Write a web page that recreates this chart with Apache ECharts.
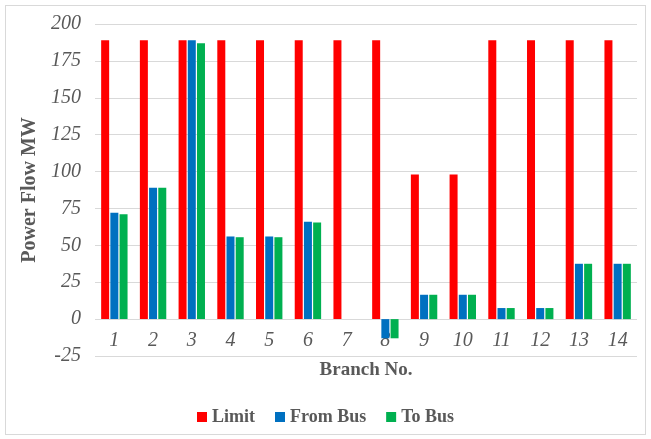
<!DOCTYPE html>
<html><head><meta charset="utf-8">
<script src="https://cdn.jsdelivr.net/npm/echarts@6/dist/echarts.min.js"></script>
<style>html,body{margin:0;padding:0;background:#fff}#c{width:651px;height:439px}
#frame{position:absolute;left:5px;top:5px;width:639px;height:428px;border:1px solid #d9d9d9;pointer-events:none}</style>
</head><body><div id="c"></div><div id="frame"></div>
<script>
const categories = ['1','2','3','4','5','6','7','8','9','10','11','12','13','14'];
const limitVals = [189,189,189,189,189,189,189,189,98,98,189,189,189,189];
const fromBus = [72,89,189,56,56,66,0,-13,16.5,16.5,7.5,7.5,37.5,37.5];
const toBus = [71,89,187,55.5,55.5,65.5,0,-13,16.5,16.5,7.5,7.5,37.5,37.5];
const yTicks = {min:-25, max:200, interval:25};

const chart = echarts.init(document.getElementById('c'));
const serif = 'Liberation Serif';
chart.setOption({
  animation:false,
  grid:{left:95,right:14,top:24,bottom:83},
  legend:{top:403,left:'center',itemWidth:10,itemHeight:10,itemGap:20,icon:'rect',
    textStyle:{fontFamily:serif,fontWeight:'bold',fontSize:18,color:'#595959'},
    data:['Limit','From Bus','To Bus']},
  xAxis:{type:'category',data:categories,position:'bottom',offset:-37,z:0,
    axisLine:{show:false,onZero:false},axisTick:{show:false},
    axisLabel:{fontFamily:serif,fontStyle:'italic',fontSize:20,color:'#595959',margin:12},
    name:'Branch No.',nameLocation:'middle',nameGap:42,
    nameTextStyle:{fontFamily:serif,fontWeight:'bold',fontSize:19,color:'#595959'}},
  yAxis:{type:'value',min:yTicks.min,max:yTicks.max,interval:yTicks.interval,
    axisLine:{show:false},axisTick:{show:false},
    splitLine:{lineStyle:{color:'#d9d9d9'}},
    axisLabel:{fontFamily:serif,fontStyle:'italic',fontSize:20,color:'#595959',margin:14},
    name:'Power Flow MW',nameLocation:'middle',nameGap:49,
    nameTextStyle:{fontFamily:serif,fontWeight:'bold',fontSize:20,color:'#595959'}},
  series:[
    {name:'Limit',type:'bar',z:5,data:limitVals,barWidth:8,barGap:'15%',itemStyle:{color:'#FF0000'}},
    {name:'From Bus',type:'bar',z:5,data:fromBus,barWidth:8,barGap:'15%',itemStyle:{color:'#0070C0'}},
    {name:'To Bus',type:'bar',z:5,data:toBus,barWidth:8,barGap:'15%',itemStyle:{color:'#00B050'}}
  ]
});
</script></body></html>
